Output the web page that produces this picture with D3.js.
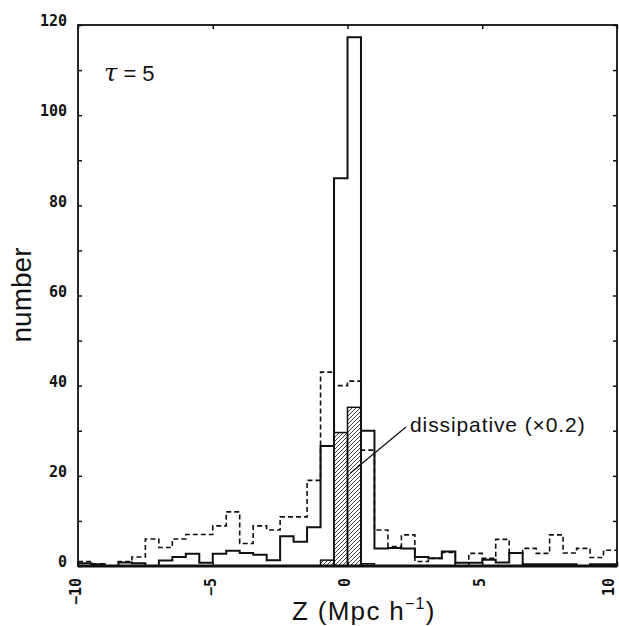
<!DOCTYPE html>
<html>
<head>
<meta charset="utf-8">
<script src="https://cdn.jsdelivr.net/npm/d3@7"></script>
<style>
  body { margin: 0; background: #fff; }
  svg { display: block; }
</style>
</head>
<body>
<div id="chart"></div>
<script>
// bins of width 0.5 from Z=-10 to Z=10 (left edges)
var binEdges = d3.range(40).map(function(i){ return -10 + i * 0.5; });

// solid histogram (collisionless)
var solidCounts = [0.6, 0.4, 0, 0.8, 0.6, 0, 1.2, 2.0, 2.7, 0.7,
                   2.7, 3.4, 2.9, 2.5, 1.3, 6.6, 5.4, 8.6, 26.6, 86,
                   117.3, 30.0, 3.9, 4.0, 3.9, 2.0, 1.7, 3.2, 0.7, 0.7,
                   1.4, 0.8, 2.9, 0.4, 0.4, 0.4, 0.4, 0, 0.4, 0.4];

// dashed histogram
var dashedCounts = [1.0, 0.5, 0, 1.0, 2.0, 6.0, 4.1, 6.0, 7.0, 7.0,
                    8.9, 12.0, 5.0, 8.9, 8.0, 10.9, 10.9, 19.0, 43.0, 40.0,
                    41.0, 25.7, 8.0, 4.3, 6.9, 1.0, 1.7, 3.0, 0, 2.8,
                    1.7, 5.9, 2.9, 3.9, 2.8, 6.9, 2.9, 3.9, 1.9, 3.5];

// hatched histogram: dissipative (x0.2), only non-empty bins
var hatchedBins = [-1.0, -0.5, 0.0, 0.5];
var hatchedCounts = [1.3, 29.6, 35.2, 0.5];

var xTicks = [-10, -5, 0, 5, 10];
var yTicks = d3.range(0, 121, 10);
var binWidth = 0.5;

var W = 619, H = 626;
var plotL = 78, plotR = 617, plotT = 25, plotB = 566;

var svg = d3.select("#chart").append("svg")
  .attr("width", W).attr("height", H);

var x = d3.scaleLinear().domain([-10, 10]).range([plotL, plotR]);
var y = d3.scaleLinear().domain([0, 120]).range([plotB, plotT]);

// hatch pattern
var defs = svg.append("defs");
defs.append("pattern")
  .attr("id", "hatch")
  .attr("patternUnits", "userSpaceOnUse")
  .attr("width", 4).attr("height", 4)
  .append("path")
  .attr("d", "M-1,1 l2,-2 M0,4 l4,-4 M3,5 l2,-2")
  .attr("stroke", "#111").attr("stroke-width", 0.8);

// turn counts into step points
var stepPoints = function(counts){
  var pts = counts.map(function(c, i){ return [binEdges[i], c]; });
  pts.push([10, counts[counts.length - 1]]);
  return pts;
};

var line = d3.line()
  .x(function(d){ return x(d[0]); })
  .y(function(d){ return y(d[1]); })
  .curve(d3.curveStepAfter);

// hatched bars
svg.selectAll("rect.hatch")
  .data(hatchedCounts)
  .enter()
  .append("rect")
  .attr("class", "hatch")
  .attr("x", function(d, i){ return x(hatchedBins[i]); })
  .attr("width", function(d, i){ return x(hatchedBins[i] + binWidth) - x(hatchedBins[i]); })
  .attr("y", function(d){ return y(d); })
  .attr("height", function(d){ return y(0) - y(d); })
  .attr("fill", "url(#hatch)")
  .attr("stroke", "#111")
  .attr("stroke-width", 1.5);

// dashed histogram
svg.append("path")
  .datum(stepPoints(dashedCounts))
  .attr("d", line)
  .attr("fill", "none")
  .attr("stroke", "#111")
  .attr("stroke-width", 1.6)
  .attr("stroke-dasharray", "5,3");

// solid histogram
svg.append("path")
  .datum(stepPoints(solidCounts))
  .attr("d", line)
  .attr("fill", "none")
  .attr("stroke", "#111")
  .attr("stroke-width", 2);

// the two vertical edges of the tall central bars down to baseline
svg.selectAll("line.edge")
  .data([-0.5, 0.5])
  .enter()
  .append("line")
  .attr("x1", function(d){ return x(d); })
  .attr("x2", function(d){ return x(d); })
  .attr("y1", y(0))
  .attr("y2", function(d){ return y(solidCounts[binEdges.indexOf(d)]); })
  .attr("stroke", "#111")
  .attr("stroke-width", 2);

// axes, ticks pointing inward
var tickFont = "'DejaVu Sans Mono', monospace";

var yAxisL = svg.append("g")
  .attr("transform", "translate(" + plotL + ",0)")
  .call(d3.axisLeft(y).tickValues(yTicks).tickSize(-4).tickPadding(11)
    .tickFormat(function(d){ return d % 20 === 0 ? d : ""; }));
yAxisL.selectAll("text")
  .attr("font-family", tickFont).attr("font-weight", "bold")
  .attr("font-size", 15).attr("fill", "#111").attr("dy", "0.05em");

svg.append("g")
  .attr("transform", "translate(" + plotR + ",0)")
  .call(d3.axisRight(y).tickValues(yTicks).tickSize(-4).tickFormat(""));

svg.append("g")
  .attr("transform", "translate(0," + plotT + ")")
  .call(d3.axisTop(x).tickValues(xTicks).tickSize(-4).tickFormat(""));

var xAxisB = svg.append("g")
  .attr("transform", "translate(0," + plotB + ")")
  .call(d3.axisBottom(x).tickValues(xTicks).tickSize(-4));
xAxisB.selectAll("text")
  .attr("font-family", tickFont).attr("font-weight", "bold")
  .attr("font-size", 15).attr("fill", "#111")
  .attr("transform", "rotate(-90)")
  .attr("text-anchor", "end")
  .attr("x", -12)
  .attr("y", function(d){ return d === 10 ? -9 : -3; })
  .attr("dy", "0.35em");

svg.selectAll(".domain").remove();
svg.selectAll(".tick line").attr("stroke", "#111").attr("stroke-width", 1.5);

// frame
svg.append("rect")
  .attr("x", plotL).attr("y", plotT)
  .attr("width", plotR - plotL).attr("height", plotB - plotT)
  .attr("fill", "none").attr("stroke", "#111").attr("stroke-width", 1.8);
svg.append("line")
  .attr("x1", plotL).attr("x2", plotR)
  .attr("y1", plotB).attr("y2", plotB)
  .attr("stroke", "#111").attr("stroke-width", 3);

// labels
var labelFont = "'Liberation Sans', Arial, sans-serif";

svg.append("text")
  .attr("transform", "translate(31,295) rotate(-90)")
  .attr("text-anchor", "middle")
  .attr("font-family", labelFont).attr("font-size", 28).attr("fill", "#111")
  .text("number");

var xl = svg.append("text")
  .attr("x", 292).attr("y", 620)
  .attr("font-family", labelFont).attr("font-size", 26).attr("fill", "#111")
  .attr("letter-spacing", 1.3);
xl.append("tspan").text("Z (Mpc h");
xl.append("tspan").attr("font-size", 16).attr("dy", -11).text("\u22121");
xl.append("tspan").attr("dy", 11).text(")");

var tau = svg.append("text")
  .attr("x", 104).attr("y", 81)
  .attr("font-family", labelFont).attr("font-size", 22).attr("fill", "#111");
tau.append("tspan").attr("font-family", "'DejaVu Serif', serif")
  .attr("font-style", "italic").attr("font-size", 24).text("\u03C4");
tau.append("tspan").text(" = 5");

svg.append("text")
  .attr("x", 410).attr("y", 432)
  .attr("font-family", labelFont).attr("font-size", 21).attr("fill", "#111")
  .attr("letter-spacing", 0.9)
  .text("dissipative (\u00D70.2)");

// leader line to the hatched bars
svg.append("line")
  .attr("x1", x(0.1)).attr("y1", y(20.6))
  .attr("x2", 406).attr("y2", 427)
  .attr("stroke", "#111").attr("stroke-width", 1.3);
</script>
</body>
</html>
